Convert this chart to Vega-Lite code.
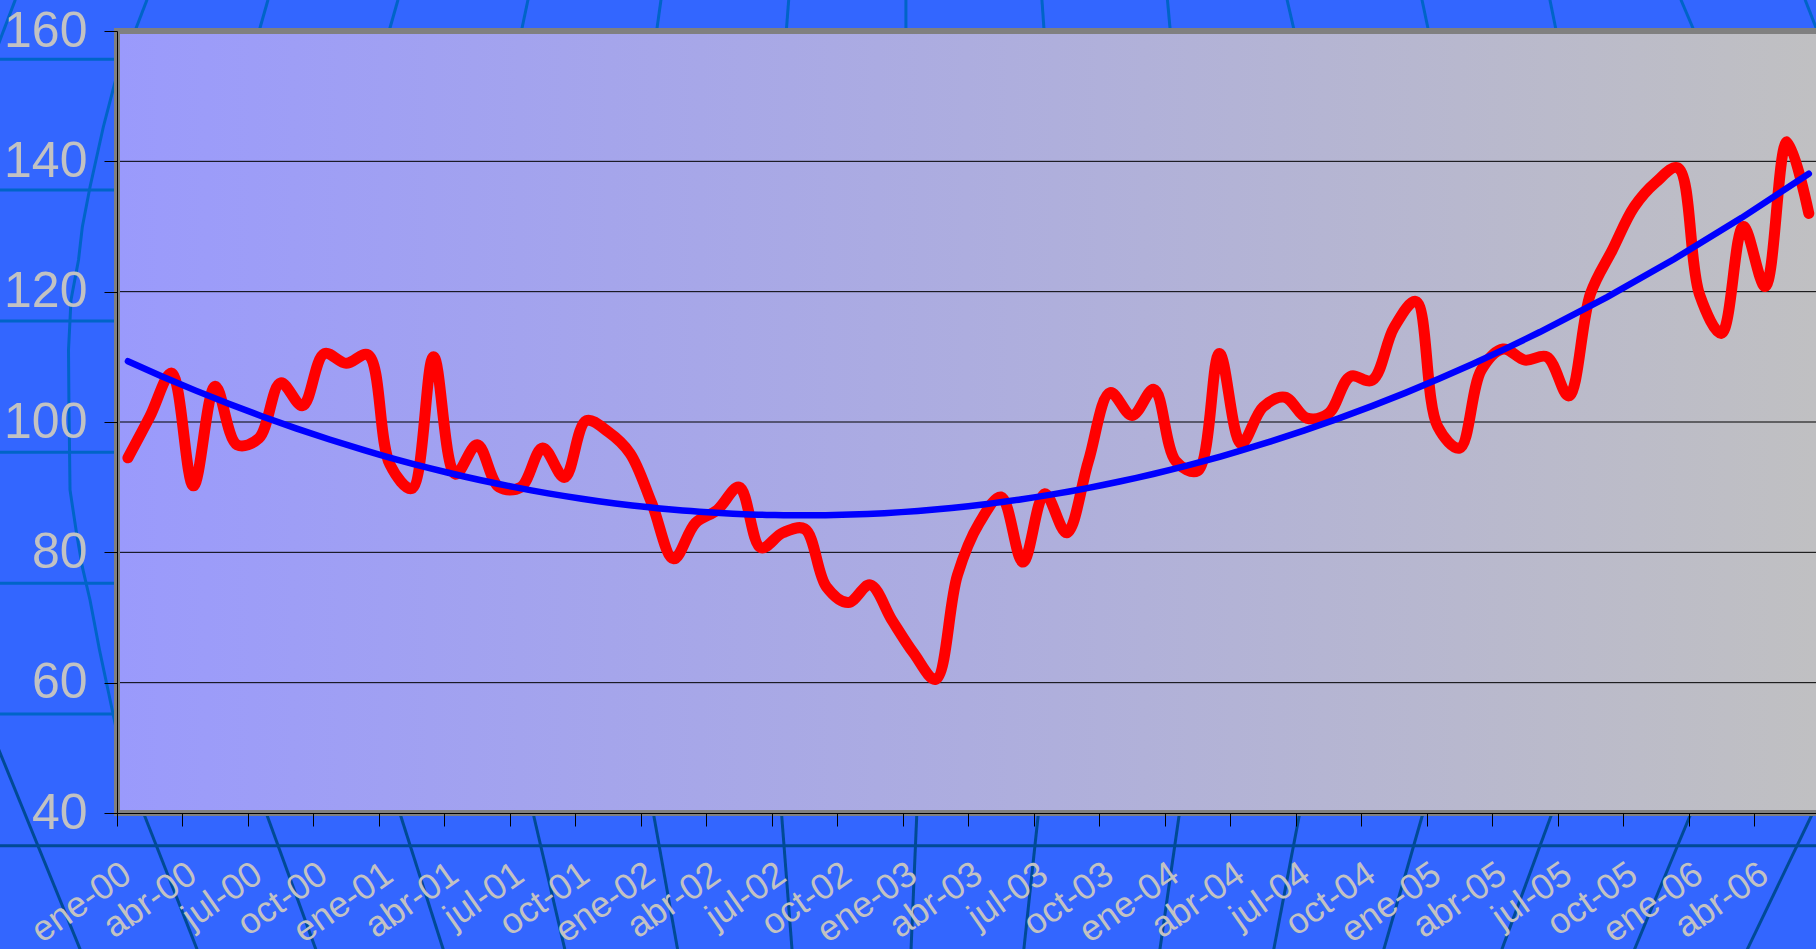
{
  "$schema": "https://vega.github.io/schema/vega-lite/v6.json",
  "width": 1699,
  "height": 782,
  "autosize": {"type": "none"},
  "padding": {"left": 117, "top": 31, "right": 0, "bottom": 136},
  "background": "#3366FF",
  "view": {
    "stroke": null,
    "fill": {"gradient": "linear", "x1": 0, "y1": 0, "x2": 1, "y2": 0,
      "stops": [{"offset": 0, "color": "#9A9AFC"}, {"offset": 1, "color": "#C0C0C2"}]}
  },
  "config": {"font": "Liberation Sans"},
  "datasets": {
    "serie": [
      {"fecha": "2000-01", "n": 0, "v": 94.5}, {"fecha": "2000-02", "n": 1, "v": 100.8}, {"fecha": "2000-03", "n": 2, "v": 107.5},
      {"fecha": "2000-04", "n": 3, "v": 90.2}, {"fecha": "2000-05", "n": 4, "v": 105.5}, {"fecha": "2000-06", "n": 5, "v": 96.5},
      {"fecha": "2000-07", "n": 6, "v": 97.5}, {"fecha": "2000-08", "n": 7, "v": 106}, {"fecha": "2000-09", "n": 8, "v": 102.5},
      {"fecha": "2000-10", "n": 9, "v": 110.5}, {"fecha": "2000-11", "n": 10, "v": 109}, {"fecha": "2000-12", "n": 11, "v": 110.3},
      {"fecha": "2001-01", "n": 12, "v": 93.5}, {"fecha": "2001-02", "n": 13, "v": 89.8}, {"fecha": "2001-03", "n": 14, "v": 110},
      {"fecha": "2001-04", "n": 15, "v": 92}, {"fecha": "2001-05", "n": 16, "v": 96.5}, {"fecha": "2001-06", "n": 17, "v": 90},
      {"fecha": "2001-07", "n": 18, "v": 90}, {"fecha": "2001-08", "n": 19, "v": 96}, {"fecha": "2001-09", "n": 20, "v": 91.5},
      {"fecha": "2001-10", "n": 21, "v": 100.2}, {"fecha": "2001-11", "n": 22, "v": 98.5}, {"fecha": "2001-12", "n": 23, "v": 95.2},
      {"fecha": "2002-01", "n": 24, "v": 87.5}, {"fecha": "2002-02", "n": 25, "v": 79}, {"fecha": "2002-03", "n": 26, "v": 84.5},
      {"fecha": "2002-04", "n": 27, "v": 86.5}, {"fecha": "2002-05", "n": 28, "v": 90}, {"fecha": "2002-06", "n": 29, "v": 80.7},
      {"fecha": "2002-07", "n": 30, "v": 83}, {"fecha": "2002-08", "n": 31, "v": 83.6}, {"fecha": "2002-09", "n": 32, "v": 74.7},
      {"fecha": "2002-10", "n": 33, "v": 72.3}, {"fecha": "2002-11", "n": 34, "v": 75}, {"fecha": "2002-12", "n": 35, "v": 69.6},
      {"fecha": "2003-01", "n": 36, "v": 64.5}, {"fecha": "2003-02", "n": 37, "v": 60.5}, {"fecha": "2003-03", "n": 38, "v": 76.5},
      {"fecha": "2003-04", "n": 39, "v": 84.5}, {"fecha": "2003-05", "n": 40, "v": 88.5}, {"fecha": "2003-06", "n": 41, "v": 78.5},
      {"fecha": "2003-07", "n": 42, "v": 89}, {"fecha": "2003-08", "n": 43, "v": 83}, {"fecha": "2003-09", "n": 44, "v": 94},
      {"fecha": "2003-10", "n": 45, "v": 104.5}, {"fecha": "2003-11", "n": 46, "v": 101}, {"fecha": "2003-12", "n": 47, "v": 105},
      {"fecha": "2004-01", "n": 48, "v": 94}, {"fecha": "2004-02", "n": 49, "v": 92.5}, {"fecha": "2004-03", "n": 50, "v": 110.5},
      {"fecha": "2004-04", "n": 51, "v": 96.7}, {"fecha": "2004-05", "n": 52, "v": 102.3}, {"fecha": "2004-06", "n": 53, "v": 103.8},
      {"fecha": "2004-07", "n": 54, "v": 100.6}, {"fecha": "2004-08", "n": 55, "v": 101.3}, {"fecha": "2004-09", "n": 56, "v": 107},
      {"fecha": "2004-10", "n": 57, "v": 106.4}, {"fecha": "2004-11", "n": 58, "v": 114.5}, {"fecha": "2004-12", "n": 59, "v": 118.5},
      {"fecha": "2005-01", "n": 60, "v": 99.3}, {"fecha": "2005-02", "n": 61, "v": 96}, {"fecha": "2005-03", "n": 62, "v": 108},
      {"fecha": "2005-04", "n": 63, "v": 111.2}, {"fecha": "2005-05", "n": 64, "v": 109.5}, {"fecha": "2005-06", "n": 65, "v": 110},
      {"fecha": "2005-07", "n": 66, "v": 104}, {"fecha": "2005-08", "n": 67, "v": 119.7}, {"fecha": "2005-09", "n": 68, "v": 126.4},
      {"fecha": "2005-10", "n": 69, "v": 133}, {"fecha": "2005-11", "n": 70, "v": 136.8}, {"fecha": "2005-12", "n": 71, "v": 139},
      {"fecha": "2006-01", "n": 72, "v": 119.5}, {"fecha": "2006-02", "n": 73, "v": 113.6}, {"fecha": "2006-03", "n": 74, "v": 130},
      {"fecha": "2006-04", "n": 75, "v": 120.8}, {"fecha": "2006-05", "n": 76, "v": 143}, {"fecha": "2006-06", "n": 77, "v": 132}
    ],
    "rejilla": [{"v": 60}, {"v": 80}, {"v": 100}, {"v": 120}, {"v": 140}],
    "decoracion": [
      {"g": "TA", "o": 0, "t": "claro", "n": 0.875, "v": 164.8}, {"g": "TA", "o": 1, "t": "claro", "n": 0.325, "v": 160},
      {"g": "T2", "o": 0, "t": "claro", "n": 6.418, "v": 164.8}, {"g": "T2", "o": 1, "t": "claro", "n": 6.01, "v": 160},
      {"g": "T3", "o": 0, "t": "claro", "n": 12.373, "v": 164.8}, {"g": "T3", "o": 1, "t": "claro", "n": 11.965, "v": 160},
      {"g": "T4", "o": 0, "t": "claro", "n": 18.328, "v": 164.8}, {"g": "T4", "o": 1, "t": "claro", "n": 18.026, "v": 160},
      {"g": "T5", "o": 0, "t": "claro", "n": 24.42, "v": 164.8}, {"g": "T5", "o": 1, "t": "claro", "n": 24.22, "v": 160},
      {"g": "T6", "o": 0, "t": "claro", "n": 30.27, "v": 164.8}, {"g": "T6", "o": 1, "t": "claro", "n": 30.16, "v": 160},
      {"g": "T7", "o": 0, "t": "claro", "n": 35.64, "v": 164.8}, {"g": "T7", "o": 1, "t": "claro", "n": 35.64, "v": 160},
      {"g": "T8", "o": 0, "t": "claro", "n": 41.87, "v": 164.8}, {"g": "T8", "o": 1, "t": "claro", "n": 41.97, "v": 160},
      {"g": "T9", "o": 0, "t": "claro", "n": 47.62, "v": 164.8}, {"g": "T9", "o": 1, "t": "claro", "n": 47.75, "v": 160},
      {"g": "T10", "o": 0, "t": "claro", "n": 53.1, "v": 164.8}, {"g": "T10", "o": 1, "t": "claro", "n": 53.43, "v": 160},
      {"g": "T11", "o": 0, "t": "claro", "n": 59.28, "v": 164.8}, {"g": "T11", "o": 1, "t": "claro", "n": 59.58, "v": 160},
      {"g": "T12", "o": 0, "t": "claro", "n": 65.14, "v": 164.8}, {"g": "T12", "o": 1, "t": "claro", "n": 65.43, "v": 160},
      {"g": "T13", "o": 0, "t": "claro", "n": 71.14, "v": 164.8}, {"g": "T13", "o": 1, "t": "claro", "n": 71.75, "v": 160},
      {"g": "T14", "o": 0, "t": "claro", "n": 76.83, "v": 164.8}, {"g": "T14", "o": 1, "t": "claro", "n": 77.39, "v": 160},
      {"g": "TO", "o": 0, "t": "claro", "n": -5.158, "v": 164.8}, {"g": "TO", "o": 1, "t": "claro", "n": -5.996, "v": 157.4},
      {"g": "MA", "o": 0, "t": "claro", "n": -0.499, "v": 153.09},
      {"g": "MA", "o": 1, "t": "claro", "n": -0.6, "v": 152.02},
      {"g": "MA", "o": 2, "t": "claro", "n": -1.127, "v": 145.27},
      {"g": "MA", "o": 3, "t": "claro", "n": -1.736, "v": 136.06},
      {"g": "MA", "o": 4, "t": "claro", "n": -2.089, "v": 129.92},
      {"g": "MA", "o": 5, "t": "claro", "n": -2.263, "v": 124.86},
      {"g": "MA", "o": 6, "t": "claro", "n": -2.607, "v": 118.72},
      {"g": "MA", "o": 7, "t": "claro", "n": -2.721, "v": 111.05},
      {"g": "MA", "o": 8, "t": "claro", "n": -2.703, "v": 103.38},
      {"g": "MA", "o": 9, "t": "claro", "n": -2.652, "v": 89.57},
      {"g": "MA", "o": 10, "t": "claro", "n": -2.355, "v": 82.97},
      {"g": "MA", "o": 11, "t": "claro", "n": -2.089, "v": 77.76},
      {"g": "MA", "o": 12, "t": "claro", "n": -1.736, "v": 72.69},
      {"g": "MA", "o": 13, "t": "claro", "n": -1.301, "v": 65.02},
      {"g": "MA", "o": 14, "t": "claro", "n": -0.912, "v": 58.88},
      {"g": "MA", "o": 15, "t": "claro", "n": -0.545, "v": 53.05},
      {"g": "BA", "o": 0, "t": "oscuro", "n": 0.715, "v": 40}, {"g": "BA", "o": 1, "t": "oscuro", "n": 3.211, "v": 18.7},
      {"g": "BB", "o": 0, "t": "oscuro", "n": 6.335, "v": 40}, {"g": "BB", "o": 1, "t": "oscuro", "n": 8.648, "v": 18.7},
      {"g": "BC", "o": 0, "t": "oscuro", "n": 12.455, "v": 40}, {"g": "BC", "o": 1, "t": "oscuro", "n": 14.48, "v": 18.7},
      {"g": "BD", "o": 0, "t": "oscuro", "n": 18.56, "v": 40}, {"g": "BD", "o": 1, "t": "oscuro", "n": 20.04, "v": 18.7},
      {"g": "BE", "o": 0, "t": "oscuro", "n": 24.07, "v": 40}, {"g": "BE", "o": 1, "t": "oscuro", "n": 25.2, "v": 18.7},
      {"g": "BF", "o": 0, "t": "oscuro", "n": 29.94, "v": 40}, {"g": "BF", "o": 1, "t": "oscuro", "n": 30.43, "v": 18.7},
      {"g": "BG", "o": 0, "t": "oscuro", "n": 36.14, "v": 40}, {"g": "BG", "o": 1, "t": "oscuro", "n": 35.87, "v": 18.7},
      {"g": "BH", "o": 0, "t": "oscuro", "n": 41.71, "v": 40}, {"g": "BH", "o": 1, "t": "oscuro", "n": 41.03, "v": 18.7},
      {"g": "BI", "o": 0, "t": "oscuro", "n": 48.17, "v": 40}, {"g": "BI", "o": 1, "t": "oscuro", "n": 47.26, "v": 18.7},
      {"g": "BJ", "o": 0, "t": "oscuro", "n": 53.68, "v": 40}, {"g": "BJ", "o": 1, "t": "oscuro", "n": 52.47, "v": 18.7},
      {"g": "BK", "o": 0, "t": "oscuro", "n": 59.33, "v": 40}, {"g": "BK", "o": 1, "t": "oscuro", "n": 57.5, "v": 18.7},
      {"g": "BL", "o": 0, "t": "oscuro", "n": 65.24, "v": 40}, {"g": "BL", "o": 1, "t": "oscuro", "n": 62.9, "v": 18.7},
      {"g": "BM", "o": 0, "t": "oscuro", "n": 71.61, "v": 40}, {"g": "BM", "o": 1, "t": "oscuro", "n": 68.97, "v": 18.7},
      {"g": "BN", "o": 0, "t": "oscuro", "n": 77.18, "v": 40}, {"g": "BN", "o": 1, "t": "oscuro", "n": 74.13, "v": 18.7},
      {"g": "BO", "o": 0, "t": "oscuro", "n": -6.088, "v": 51.13}, {"g": "BO", "o": 1, "t": "oscuro", "n": -2.139, "v": 18.67},
      {"g": "H1", "o": 0, "t": "claro", "n": -6, "v": 155.66}, {"g": "H1", "o": 1, "t": "claro", "n": -0.5, "v": 155.66},
      {"g": "H2", "o": 0, "t": "claro", "n": -6, "v": 135.6}, {"g": "H2", "o": 1, "t": "claro", "n": -0.5, "v": 135.6},
      {"g": "H3", "o": 0, "t": "claro", "n": -6, "v": 115.5}, {"g": "H3", "o": 1, "t": "claro", "n": -0.5, "v": 115.5},
      {"g": "H4", "o": 0, "t": "claro", "n": -6, "v": 95.35}, {"g": "H4", "o": 1, "t": "claro", "n": -0.5, "v": 95.35},
      {"g": "H5", "o": 0, "t": "claro", "n": -6, "v": 75.25}, {"g": "H5", "o": 1, "t": "claro", "n": -0.5, "v": 75.25},
      {"g": "H6", "o": 0, "t": "claro", "n": -6, "v": 55.19}, {"g": "H6", "o": 1, "t": "claro", "n": -0.5, "v": 55.19},
      {"g": "H7", "o": 0, "t": "oscuro", "n": -6, "v": 34.98}, {"g": "H7", "o": 1, "t": "oscuro", "n": 79, "v": 34.98}
    ]
  },
  "layer": [
    {
      "data": {"name": "decoracion"},
      "mark": {"type": "line", "strokeWidth": 3, "clip": false},
      "encoding": {
        "x": {"field": "n", "type": "quantitative", "scale": {"domain": [-0.5, 77.33], "nice": false, "zero": false}},
        "y": {"field": "v", "type": "quantitative", "scale": {"domain": [40, 160], "nice": false, "zero": false}},
        "detail": {"field": "g", "type": "nominal"},
        "order": {"field": "o", "type": "quantitative"},
        "color": {"field": "t", "type": "nominal", "scale": {"domain": ["claro", "oscuro"], "range": ["#0064C8", "#004A96"]}, "legend": null}
      }
    },
    {
      "data": {"name": "rejilla"},
      "mark": {"type": "rule", "color": "#000000", "strokeWidth": 1},
      "encoding": {
        "y": {"field": "v", "type": "quantitative", "scale": {"domain": [40, 160], "nice": false, "zero": false}}
      }
    },
    {
      "data": {"values": [{}]},
      "mark": {"type": "rule", "color": "#808080", "strokeWidth": 6, "strokeCap": "square"},
      "encoding": {"y": {"datum": 160, "type": "quantitative", "scale": {"domain": [40, 160], "nice": false, "zero": false}}}
    },
    {
      "data": {"values": [{}]},
      "mark": {"type": "rule", "color": "#808080", "strokeWidth": 6, "strokeCap": "square"},
      "encoding": {"y": {"datum": 40, "type": "quantitative", "scale": {"domain": [40, 160], "nice": false, "zero": false}}}
    },
    {
      "data": {"values": [{}]},
      "mark": {"type": "rule", "color": "#808080", "strokeWidth": 6, "strokeCap": "square"},
      "encoding": {"x": {"datum": -0.5, "type": "quantitative", "scale": {"domain": [-0.5, 77.33], "nice": false, "zero": false}}}
    },
    {
      "data": {"name": "serie"},
      "mark": {"type": "line", "color": "#FF0000", "strokeWidth": 11, "strokeCap": "round", "strokeJoin": "round", "interpolate": "catmull-rom"},
      "encoding": {
        "x": {
          "field": "n", "type": "quantitative",
          "scale": {"domain": [-0.5, 77.33], "nice": false, "zero": false},
          "axis": {
            "title": null, "grid": false, "zindex": 1,
            "values": [-0.5, 2.5, 5.5, 8.5, 11.5, 14.5, 17.5, 20.5, 23.5, 26.5, 29.5, 32.5, 35.5, 38.5, 41.5, 44.5, 47.5, 50.5, 53.5, 56.5, 59.5, 62.5, 65.5, 68.5, 71.5, 74.5],
            "domainColor": "#000000", "domainWidth": 1,
            "tickColor": "#000000", "tickWidth": 1, "tickSize": 13,
            "labelExpr": "['ene','feb','mar','abr','may','jun','jul','ago','sep','oct','nov','dic'][round(datum.value+0.5)%12] + '-0' + floor(round(datum.value+0.5)/12)",
            "labelOffset": 0, "labelAngle": -35, "labelAlign": "right", "labelBaseline": "top",
            "labelPadding": 30, "labelFontSize": 36, "labelColor": "#C2C2C2", "labelFont": "Liberation Sans",
            "labelOverlap": false, "labelBound": false, "labelFlush": false
          }
        },
        "y": {
          "field": "v", "type": "quantitative",
          "scale": {"domain": [40, 160], "nice": false, "zero": false},
          "axis": {
            "title": null, "grid": false, "zindex": 1,
            "values": [40, 60, 80, 100, 120, 140, 160],
            "domainColor": "#000000", "domainWidth": 1,
            "tickColor": "#000000", "tickWidth": 1, "tickSize": 13,
            "labelFontSize": 50, "labelColor": "#C2C2C2", "labelFont": "Liberation Sans", "labelPadding": 17,
            "labelOverlap": false, "labelBound": false, "labelFlush": false
          }
        }
      }
    },
    {
      "data": {"name": "serie"},
      "transform": [{"regression": "v", "on": "n", "method": "poly", "order": 2}],
      "mark": {"type": "line", "color": "#0000FF", "strokeWidth": 6.5, "strokeCap": "round"},
      "encoding": {
        "x": {"field": "n", "type": "quantitative", "scale": {"domain": [-0.5, 77.33], "nice": false, "zero": false}},
        "y": {"field": "v", "type": "quantitative", "scale": {"domain": [40, 160], "nice": false, "zero": false}}
      }
    }
  ]
}
